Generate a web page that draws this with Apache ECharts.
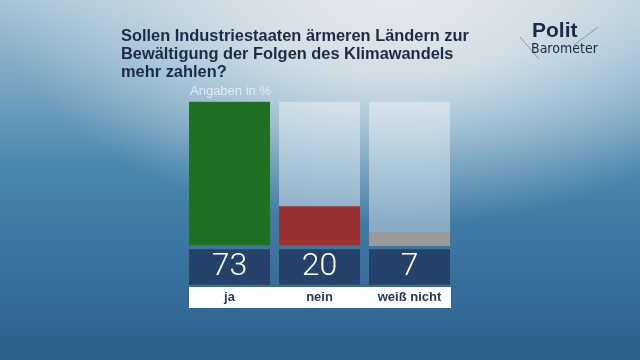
<!DOCTYPE html>
<html><head><meta charset="utf-8">
<script src="https://cdn.jsdelivr.net/npm/echarts@6/dist/echarts.min.js"></script>
<style>
html,body{margin:0;padding:0;width:640px;height:360px;overflow:hidden;}
body{background:
 radial-gradient(ellipse 62% 62% at 62% 0%, rgba(228,234,239,1) 0%, rgba(222,230,236,0.85) 35%, rgba(210,222,230,0) 100%),
 linear-gradient(to bottom, #a9c4d4 0%, #7aa7c3 22%, #4d89ae 45%, #3b74a0 70%, #2c608b 100%);}
#c{width:640px;height:360px;}
</style></head><body><div id="c"></div>
<script>
const categories = ['ja', 'nein', 'weiß nicht'];
const values = [73, 20, 7];
const colors = ['#1f7023', '#9a3132', '#9a9a9a'];
const titleText = 'Sollen Industriestaaten ärmeren Ländern zur\nBewältigung der Folgen des Klimawandels\nmehr zahlen?';
const subText = 'Angaben in %';

const chart = echarts.init(document.getElementById('c'));
chart.setOption({
  backgroundColor: 'transparent',
  animation: false,
  title: {
    text: titleText, left: 116, top: 22,
    textStyle: {fontFamily: 'Liberation Sans', fontWeight: 'bold', fontSize: 16.4, lineHeight: 18, color: '#1b2a45'}
  },
  graphic: [
    {type: 'text', left: 190, top: 85, style: {text: subText, font: '13px "Liberation Sans"', fill: '#e4ebf0'}},
    {type: 'rect', shape: {x: 189, y: 287, width: 262, height: 21}, style: {fill: '#ffffff'}, z: 0},
    {type: 'line', shape: {x1: 520, y1: 37, x2: 539, y2: 59}, style: {stroke: '#8a98a6', lineWidth: 1}},
    {type: 'line', shape: {x1: 574, y1: 45, x2: 598, y2: 27}, style: {stroke: '#8a98a6', lineWidth: 1}},
    {type: 'text', left: 532, top: 21, style: {text: 'Polit', font: 'bold 21px "Liberation Sans"', fill: '#1b2a45'}},
    {type: 'text', left: 531, top: 42, style: {text: 'Barometer', font: '14px "DejaVu Sans Condensed"', fill: '#1b2a45'}}
  ],
  grid: {left: 184.5, width: 270, top: 101.7, height: 144},
  xAxis: {
    type: 'category', data: categories,
    axisLine: {show: false}, axisTick: {show: false},
    axisLabel: {
      interval: 0, hideOverlap: false,
      margin: 3.5,
      formatter: (v, i) => '{v|' + values[i] + '}\n{n|' + v + '}',
      rich: {
        v: {width: 81, height: 35.5, lineHeight: 35.5, align: 'center', backgroundColor: '#25436a',
            color: '#ffffff', fontFamily: 'Roboto', fontWeight: 300, fontSize: 32},
        n: {height: 22, lineHeight: 24, align: 'center', verticalAlign: 'bottom', color: '#22375a', fontFamily: 'Liberation Sans',
            fontWeight: 'bold', fontSize: 13}
      }
    }
  },
  yAxis: {type: 'value', min: 0, max: Math.max(...values), show: false, splitLine: {show: false}},
  series: [{
    type: 'bar', barWidth: 81,
    data: values.map((v, i) => ({value: v, itemStyle: {color: colors[i]}})),
    showBackground: true,
    backgroundStyle: {color: 'rgba(255,255,255,0.38)'}
  }]
});
</script></body></html>
